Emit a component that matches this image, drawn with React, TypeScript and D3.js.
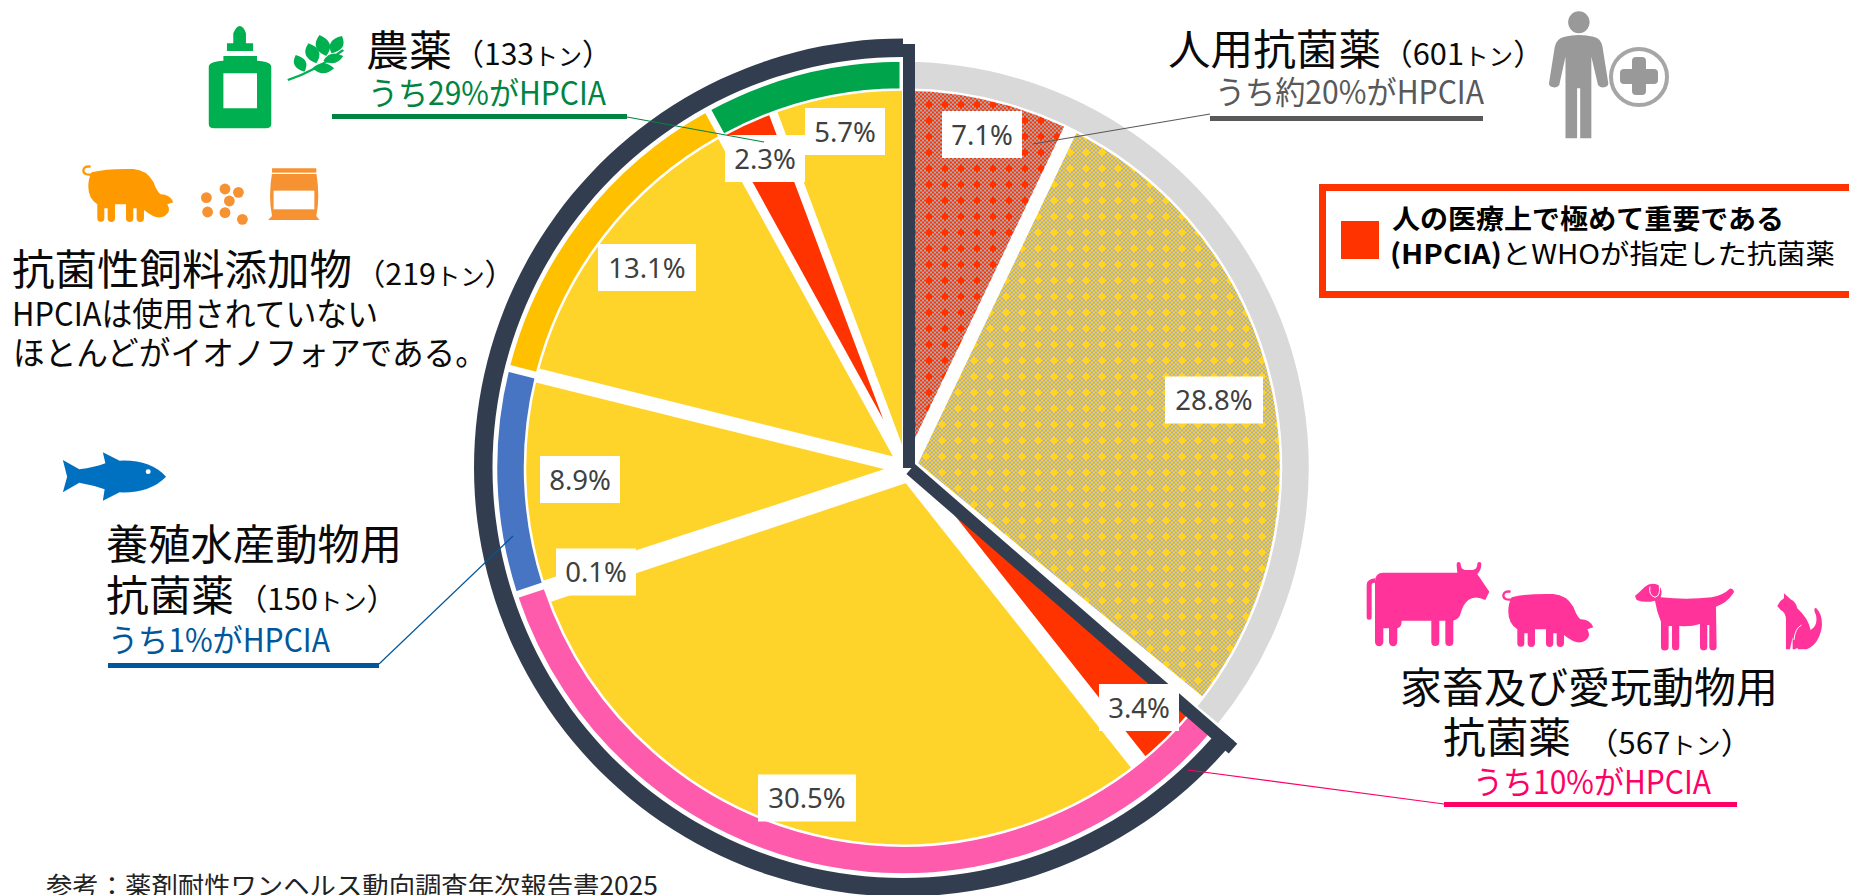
import React from "react";
import * as d3 from "d3";

// ---- data ----
const sectorNames = ["人用抗菌薬", "家畜及び愛玩動物用抗菌薬", "養殖水産動物用抗菌薬", "抗菌性飼料添加物", "農薬"];
const sectorTons = [601, 567, 150, 219, 133];
const sectorColors = ["#D9D9D9", "#FF5BAC", "#4874C4", "#FFC000", "#00A44A"];

const sliceValues = [7.1, 28.8, 3.4, 30.5, 0.1, 8.9, 13.1, 2.3, 5.7];
const sliceLabels = ["7.1%", "28.8%", "3.4%", "30.5%", "0.1%", "8.9%", "13.1%", "2.3%", "5.7%"];
const sliceFills = ["url(#hatchRed)", "url(#hatchYellow)", "#FF3300", "#FFD42A", "#FF3300", "#FFD42A", "#FFD42A", "#FF3300", "#FFD42A"];

// ---- layout ----
const W = 1849, H = 895;
const cx = 903, cy = 467.5;
const sliceExplode = [[1, -4], [14, -4], [6.5, -7.6], [3, 14.5], [-6, 8], [-15, 1.5], [-8, -9.5], [-14, -35.5], [0, -17.5]];
const labelCenters = [[982, 134.5], [1214, 400], [1139, 707.5], [807, 798], [596, 572], [580, 479.5], [647, 267.5], [765, 158.5], [845, 131.5]];
const JP = '"Noto Sans CJK JP","Noto Sans",sans-serif';
const INK = "#0A0A0A";

const pieGen = d3.pie<number>().sort(null).value((d) => d);
const wedge = d3.arc<d3.PieArcDatum<number>>().innerRadius(0).outerRadius(470);
const ring = d3.arc<d3.PieArcDatum<number>>().innerRadius(378).outerRadius(407).padAngle(0.008);
const slices = pieGen(sliceValues);
const sectors = pieGen(sectorTons);
const darkArc = d3.arc()({
  innerRadius: 410.5,
  outerRadius: 429,
  startAngle: sectors[0].endAngle,
  endAngle: Math.PI * 2,
}) as string;

function Head({ x, y, w, t, size = 42, fill = INK, weight }: any) {
  return (
    <text x={x} y={y} fontSize={size} fill={fill} fontWeight={weight} textLength={w} lengthAdjust="spacingAndGlyphs">
      {t}
    </text>
  );
}

function Tons({ x0, x1, y, n }: any) {
  const size = 30;
  return (
    <text x={x0 - size / 2} y={y} fontSize={size} fill={INK} textLength={x1 - x0 + size} lengthAdjust="spacingAndGlyphs">
      （{n}
      <tspan fontSize={24}>トン</tspan>）
    </text>
  );
}

function hatchCells(fg: string, bg: string) {
  const cells: React.ReactNode[] = [];
  const extra = new Set(["3,4", "4,3", "4,5", "5,4"]);
  for (let i = 0; i < 8; i++)
    for (let j = 0; j < 8; j++)
      if ((i + j) % 2 === 0 || extra.has(`${i},${j}`))
        cells.push(<rect key={`${i}-${j}`} x={i * 2} y={j * 2} width={2} height={2} fill={fg} />);
  return (
    <>
      <rect width={16} height={16} fill={bg} />
      {cells}
    </>
  );
}

const leafPairs = [
  [770, 215, 748, 165], [800, 190, 780, 130], [825, 168, 808, 105], [838, 160, 865, 108],
  [790, 205, 845, 205], [818, 182, 868, 168],
];
function leafPath([x0, y0, x1, y1]: number[]) {
  const mx = (x0 + x1) / 2, my = (y0 + y1) / 2;
  const nx = -(y1 - y0) * 0.55, ny = (x1 - x0) * 0.55;
  return `M${x0},${y0} Q${mx + nx},${my + ny} ${x1},${y1} Q${mx - nx},${my - ny} ${x0},${y0}Z`;
}

const pigBody = "M515,172 Q560,160 640,162 Q680,165 700,200 Q712,232 722,238 Q750,238 760,262 L742,268 Q755,290 735,302 Q712,318 672,285 L672,310 A10,10 0 0 1 650,310 L650,280 L640,280 L640,310 A11,11 0 0 1 618,310 L618,268 L585,268 L585,310 A11,11 0 0 1 563,310 L563,280 L553,280 L553,310 A10,10 0 0 1 532,310 L532,268 Q505,250 505,215 Q505,190 515,172 Z";

function Pig({ color }: { color: string }) {
  return (
    <g>
      <path d={pigBody} fill={color} />
      <path d="M518,178 Q490,182 490,166 Q492,152 512,155" fill="none" stroke={color} strokeWidth={7} />
    </g>
  );
}

const pelletsZ3 = [[569, 567], [603, 577], [522, 593], [580, 603], [525, 636], [569, 638], [613, 658]];

export default function App() {
  return (
    <svg width={W} height={H} viewBox={`0 0 ${W} ${H}`} fontFamily={JP} style={{ position: "fixed", left: 0, top: 0, background: "#fff" }}>
      <defs>
        <pattern id="hatchRed" width={16} height={16} patternUnits="userSpaceOnUse">{hatchCells("#FF3300", "#A8ADB5")}</pattern>
        <pattern id="hatchYellow" width={16} height={16} patternUnits="userSpaceOnUse">{hatchCells("#FFD42A", "#A8ADB5")}</pattern>
        <clipPath id="pieClip"><circle cx={cx} cy={cy} r={378} /></clipPath>
        <clipPath id="belowDiag"><polygon points="910.7,469 1233,748.7 1000,895 700,895 700,469" /></clipPath>
      </defs>

      {/* pie slices */}
      <g clipPath="url(#pieClip)">
        {slices.map((s, i) => (
          <g key={i} clipPath={i === 2 ? "url(#belowDiag)" : undefined}>
            <path
              d={wedge(s) as string}
              transform={`translate(${cx + sliceExplode[i][0]},${cy + sliceExplode[i][1]})`}
              fill={sliceFills[i]}
              stroke="#fff"
              strokeWidth={sliceValues[i] < 1 ? 3.5 : 2}
            />
          </g>
        ))}
      </g>

      {/* sector ring */}
      <g transform={`translate(${cx},${cy})`}>
        {sectors.map((s, i) => (
          <path key={sectorNames[i]} d={ring(s) as string} fill={sectorColors[i]} stroke="#fff" strokeWidth={2.5} />
        ))}
        <path d={darkArc} fill="#323E50" />
      </g>
      <line x1={909} y1={44} x2={909} y2={468} stroke="#323E50" strokeWidth={12} />
      <line x1={910.7} y1={469} x2={1233} y2={748.7} stroke="#323E50" strokeWidth={13} />

      {/* data labels */}
      {sliceLabels.map((t, i) => {
        const [lx, ly] = labelCenters[i];
        const bw = t.length > 4 ? 98 : 80;
        return (
          <g key={t}>
            <rect x={lx - bw / 2} y={ly - 23.5} width={bw} height={47} fill="#fff" />
            <text x={lx} y={ly + 10} fontSize={27.5} fill="#404040" textAnchor="middle" fontFamily='"Noto Sans","Open Sans",sans-serif'>{t}</text>
          </g>
        );
      })}

      {/* leaders */}
      <line x1={627} y1={117} x2={764} y2={142} stroke="#00843F" strokeWidth={1.2} />
      <line x1={1210} y1={114} x2={1033} y2={144} stroke="#595959" strokeWidth={1.2} />
      <line x1={379} y1={664} x2={513} y2={536} stroke="#01579B" strokeWidth={1.2} />
      <line x1={1444} y1={804} x2={1188} y2={770} stroke="#FF0066" strokeWidth={1.2} />

      {/* 農薬 */}
      <Head x={366} y={66} w={86} t="農薬" />
      <Tons x0={469} x1={597} y={65} n="133" />
      <Head x={368} y={105} w={238} size={32} fill="#00843F" t="うち29%がHPCIA" />
      <rect x={332} y={114} width={295} height={5} fill="#00843F" />

      {/* 人用抗菌薬 */}
      <Head x={1168} y={65} w={213} t="人用抗菌薬" />
      <Tons x0={1397} x1={1529} y={65} n="601" />
      <Head x={1215} y={104} w={269} size={32} fill="#595959" t="うち約20%がHPCIA" />
      <rect x={1210} y={116} width={273} height={5} fill="#595959" />

      {/* 抗菌性飼料添加物 */}
      <Head x={12} y={285} w={340} t="抗菌性飼料添加物" />
      <Tons x0={370} x1={500} y={285} n="219" />
      <Head x={12} y={326} w={366} size={33} t="HPCIAは使用されていない" />
      <Head x={13} y={365} w={474} size={33} t="ほとんどがイオノフォアである。" />

      {/* 養殖水産動物用 */}
      <Head x={106} y={560} w={296} t="養殖水産動物用" />
      <Head x={106} y={611} w={128} t="抗菌薬" />
      <Tons x0={252} x1={382} y={610} n="150" />
      <Head x={108} y={652} w={222} size={32} fill="#01579B" t="うち1%がHPCIA" />
      <rect x={108} y={663} width={271} height={5} fill="#01579B" />

      {/* 家畜及び愛玩動物用 */}
      <Head x={1400} y={703} w={378} t="家畜及び愛玩動物用" />
      <Head x={1443} y={753} w={128} t="抗菌薬" />
      <Tons x0={1602} x1={1737} y={754} n="567" />
      <Head x={1473} y={794} w={238} size={32} fill="#FF0066" t="うち10%がHPCIA" />
      <rect x={1444} y={802} width={293} height={5} fill="#FF0066" />

      {/* legend */}
      <rect x={1322.5} y={187.5} width={540} height={107} fill="#fff" stroke="#FF3300" strokeWidth={7} />
      <rect x={1341} y={221} width={38} height={38} fill="#FF3300" />
      <Head x={1392} y={229} w={392} size={27} fill="#000" weight={700} t="人の医療上で極めて重要である" />
      <text x={1390} y={264} fontSize={27} fill="#000" textLength={445} lengthAdjust="spacingAndGlyphs">
        <tspan fontWeight={700}>(HPCIA)</tspan>とWHOが指定した抗菌薬
      </text>

      {/* source */}
      <Head x={46} y={895} w={612} size={25} fill="#222" t="参考：薬剤耐性ワンヘルス動向調査年次報告書2025" />

      {/* icons: pesticide */}
      <g transform="scale(0.3954,0.3333)" fill="#00B050">
        <path d="M590,130 L590,100 Q598,78 606,78 Q616,78 622,100 L622,130 L640,130 L640,153 L574,153 L574,130 Z" />
        <path fillRule="evenodd" d="M565,168 L650,168 L650,182 Q686,185 686,200 L686,372 Q686,385 672,385 L542,385 Q528,385 528,372 L528,200 Q528,185 565,182 Z M565,220 L565,325 L650,325 L650,220 Z" />
        <path d="M728,240 Q800,212 868,150" fill="none" stroke="#00B050" strokeWidth={7} />
        {leafPairs.map((p, i) => <path key={i} d={leafPath(p)} />)}
      </g>

      {/* icons: feed */}
      <g transform="translate(-1420,-425)"><g transform="translate(1340,540) scale(0.3333)"><Pig color="#FF9900" /></g></g>
      {pelletsZ3.map(([x, y], i) => <circle key={i} cx={x * 0.3954} cy={y * 0.3333} r={5.4} fill="#F79232" />)}
      <g transform="scale(0.3954,0.3333)">
        <path d="M688,505 L800,505 L800,518 Q810,590 800,648 L808,660 L678,660 L688,648 Q678,590 688,518 Z" fill="#F79232" />
        <rect x={686} y={518} width={116} height={4} fill="#FFF" />
        <rect x={692} y={572} width={103} height={56} fill="#FFF" />
      </g>

      {/* icons: fish */}
      <g transform="translate(0,430) scale(0.3571,0.3333)">
        <path d="M176,90 L222,118 Q265,112 295,100 L288,67 L335,92 Q420,88 465,140 Q420,190 335,187 L288,212 L293,178 Q260,165 222,158 L176,187 L188,140 Z" fill="#0070C0" />
        <ellipse cx={415} cy={125} rx={7} ry={7} fill="#fff" />
      </g>

      {/* icons: person */}
      <g transform="translate(1150,0) scale(0.4458,0.3333)" fill="#999">
        <ellipse cx={962} cy={67} rx={24} ry={33} />
        <path d="M930,110 Q962,100 995,110 Q1012,115 1015,140 L1028,250 A12,12 0 0 1 1005,255 L990,170 L990,415 L965,415 L965,265 L958,265 L958,415 L932,415 L932,170 L918,255 A12,12 0 0 1 895,250 L908,140 Q912,115 930,110Z" />
      </g>
      <circle cx={1639} cy={77} r={28} fill="none" stroke="#A6A6A6" strokeWidth={4} />
      <rect x={1632} y={57} width={14} height={38} rx={4} fill="#999" />
      <rect x={1620} y={69} width={38} height={15} rx={4} fill="#999" />

      {/* icons: animals */}
      <g transform="translate(1340,540) scale(0.3333)" fill="#FF3399">
        <path d="M105,125 Q105,98 130,98 L352,98 Q350,80 350,72 A6,6 0 0 1 362,72 Q362,88 375,90 L398,90 Q412,88 412,72 A6,6 0 0 1 424,72 Q424,90 412,102 L448,155 L436,180 Q405,165 385,180 Q368,195 362,220 Q358,238 340,242 L340,306 A12,12 0 0 1 316,306 L316,242 L298,242 L298,306 A12,12 0 0 1 274,306 L274,242 L185,242 Q185,262 172,265 L172,306 A12,12 0 0 1 147,306 L147,265 L130,265 L130,306 A12,12 0 0 1 105,306 Z" />
        <path d="M105,115 Q80,118 80,135 L80,232 A7,7 0 0 0 95,232 L95,135 Q95,128 105,128 Z" />
        <Pig color="#FF3399" />
        <path d="M885,168 Q905,150 915,140 Q932,125 955,135 Q970,150 962,172 Q1040,180 1115,172 Q1150,165 1165,150 A9,9 0 0 1 1180,160 Q1160,190 1128,200 L1130,320 A11,11 0 0 1 1108,320 L1108,255 L1102,255 L1102,320 A11,11 0 0 1 1080,320 L1080,252 Q1050,262 1018,258 L1018,320 A11,11 0 0 1 996,320 L996,258 L986,258 L986,320 A11,11 0 0 1 963,320 L963,245 Q950,215 945,182 Q915,190 890,180 Z" />
        <path d="M930,140 Q925,165 945,172 Q962,168 958,138" fill="none" stroke="#fff" strokeWidth={3} />
        <path d="M1312,198 Q1322,180 1332,175 L1332,160 L1352,178 Q1368,185 1372,205 Q1405,235 1412,270 Q1435,255 1428,225 Q1418,205 1428,203 Q1450,225 1445,265 Q1435,315 1400,328 L1375,328 Q1368,322 1375,315 L1385,315 L1365,328 L1358,328 L1358,290 L1350,328 L1338,328 L1338,240 Q1338,218 1322,210 Z" />
        <path d="M1385,255 Q1365,265 1362,300" fill="none" stroke="#fff" strokeWidth={3} />
      </g>
    </svg>
  );
}
